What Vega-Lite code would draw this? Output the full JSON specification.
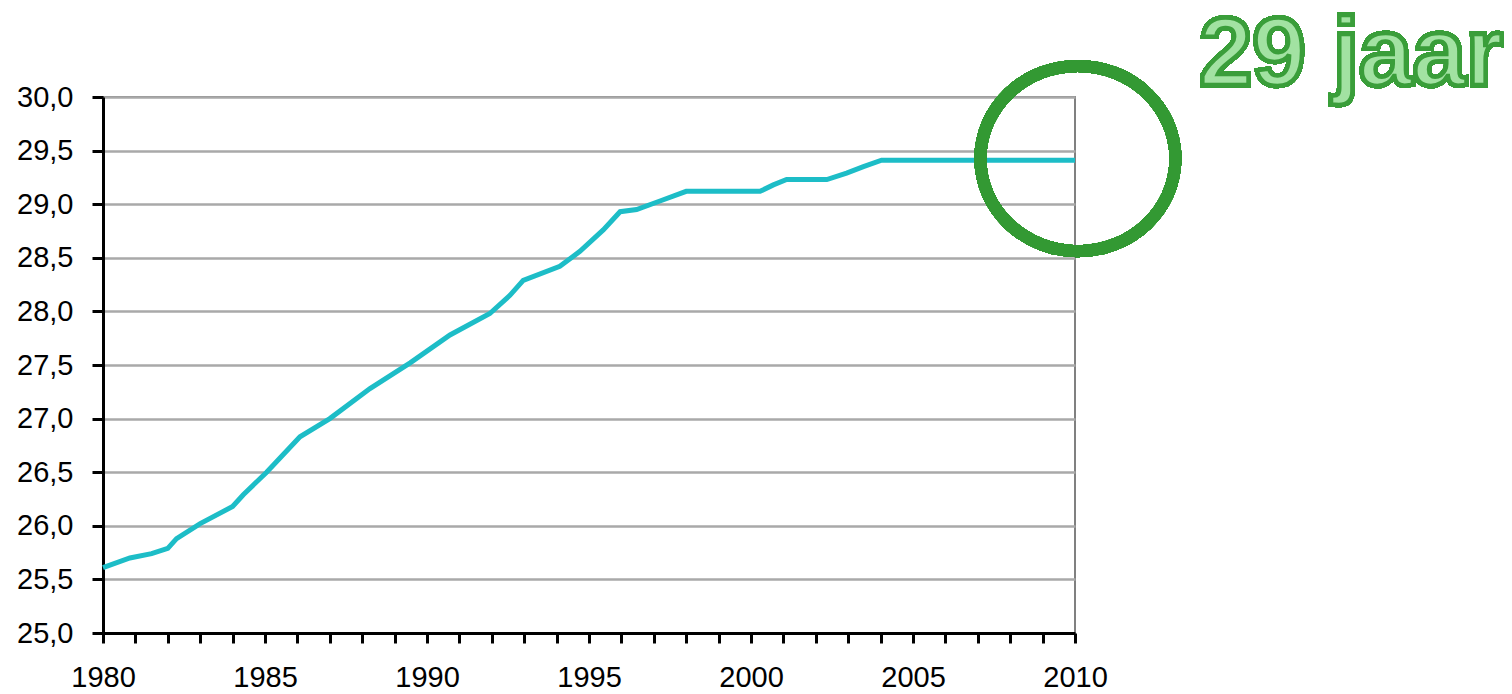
{
  "$schema": "https://vega.github.io/schema/vega-lite/v6.json",
  "width": 972,
  "height": 536,
  "autosize": "none",
  "padding": {"left": 103, "top": 97, "right": 437, "bottom": 61},
  "background": "white",
  "config": {
    "view": {"stroke": "#808080", "strokeWidth": 2},
    "font": "Liberation Sans",
    "axisX": {
      "title": null,
      "grid": false,
      "values": [1980,1981,1982,1983,1984,1985,1986,1987,1988,1989,1990,1991,1992,1993,1994,1995,1996,1997,1998,1999,2000,2001,2002,2003,2004,2005,2006,2007,2008,2009,2010],
      "labelExpr": "datum.value % 5 == 0 ? format(datum.value, 'd') : ''",
      "domainColor": "#000000",
      "domainWidth": 3,
      "tickColor": "#000000",
      "tickWidth": 3,
      "tickSize": 10,
      "labelFont": "Liberation Sans",
      "labelFontSize": 29,
      "labelColor": "#000000",
      "labelPadding": 20,
      "labelFlush": false,
      "labelOverlap": false
    },
    "axisY": {
      "title": null,
      "values": [25, 25.5, 26, 26.5, 27, 27.5, 28, 28.5, 29, 29.5, 30],
      "labelExpr": "replace(format(datum.value, '.1f'), '.', ',')",
      "grid": true,
      "gridColor": "#a9a9a9",
      "gridWidth": 2.5,
      "domainColor": "#000000",
      "domainWidth": 3,
      "tickColor": "#000000",
      "tickWidth": 3,
      "tickSize": 11,
      "labelFont": "Liberation Sans",
      "labelFontSize": 29,
      "labelColor": "#000000",
      "labelPadding": 19,
      "labelOverlap": false
    }
  },
  "data": {
    "values": [
      {"jaar": 1980.0, "leeftijd": 25.61},
      {"jaar": 1980.83, "leeftijd": 25.7},
      {"jaar": 1981.5, "leeftijd": 25.74},
      {"jaar": 1982.0, "leeftijd": 25.79},
      {"jaar": 1982.27, "leeftijd": 25.88},
      {"jaar": 1983.0, "leeftijd": 26.02},
      {"jaar": 1984.0, "leeftijd": 26.18},
      {"jaar": 1984.33, "leeftijd": 26.29},
      {"jaar": 1985.05, "leeftijd": 26.5},
      {"jaar": 1986.08, "leeftijd": 26.83},
      {"jaar": 1987.0, "leeftijd": 27.0},
      {"jaar": 1988.24, "leeftijd": 27.28},
      {"jaar": 1989.48, "leeftijd": 27.52},
      {"jaar": 1990.71, "leeftijd": 27.78},
      {"jaar": 1991.94, "leeftijd": 27.98},
      {"jaar": 1992.56, "leeftijd": 28.15},
      {"jaar": 1992.97, "leeftijd": 28.29},
      {"jaar": 1994.1, "leeftijd": 28.42},
      {"jaar": 1994.72, "leeftijd": 28.56},
      {"jaar": 1995.44, "leeftijd": 28.76},
      {"jaar": 1995.96, "leeftijd": 28.93},
      {"jaar": 1996.47, "leeftijd": 28.95},
      {"jaar": 1997.19, "leeftijd": 29.03},
      {"jaar": 1998.0, "leeftijd": 29.12},
      {"jaar": 2000.28, "leeftijd": 29.12},
      {"jaar": 2000.69, "leeftijd": 29.18},
      {"jaar": 2001.1, "leeftijd": 29.23},
      {"jaar": 2002.34, "leeftijd": 29.23},
      {"jaar": 2002.95, "leeftijd": 29.29},
      {"jaar": 2003.47, "leeftijd": 29.35},
      {"jaar": 2004.03, "leeftijd": 29.41},
      {"jaar": 2010.0, "leeftijd": 29.41}
    ]
  },
  "layer": [
    {
      "mark": {"type": "line", "color": "#1dbdc7", "strokeWidth": 5, "clip": false},
      "encoding": {
        "x": {
          "field": "jaar",
          "type": "quantitative",
          "scale": {"domain": [1980, 2010], "nice": false, "zero": false}
        },
        "y": {
          "field": "leeftijd",
          "type": "quantitative",
          "scale": {"domain": [25, 30], "nice": false, "zero": false}
        }
      }
    },
    {
      "mark": {"type": "point", "filled": false, "stroke": "#339933", "strokeWidth": 12, "size": 38025, "shape": "M -1 0 A 1 0.95 0 1 0 1 0 A 1 0.95 0 1 0 -1 0 Z", "opacity": 1},
      "encoding": {
        "x": {"datum": 2010.09, "type": "quantitative"},
        "y": {"datum": 29.426, "type": "quantitative"}
      }
    },
    {
      "mark": {"type": "text", "text": "29 jaar", "font": "Liberation Sans", "fontWeight": "bold", "fontSize": 96, "fill": "#a2e2a2", "stroke": "#3a9e3a", "strokeWidth": 4.5, "align": "center", "baseline": "alphabetic"},
      "encoding": {
        "x": {"datum": 2018.52, "type": "quantitative"},
        "y": {"datum": 30.11, "type": "quantitative"}
      }
    }
  ]
}
